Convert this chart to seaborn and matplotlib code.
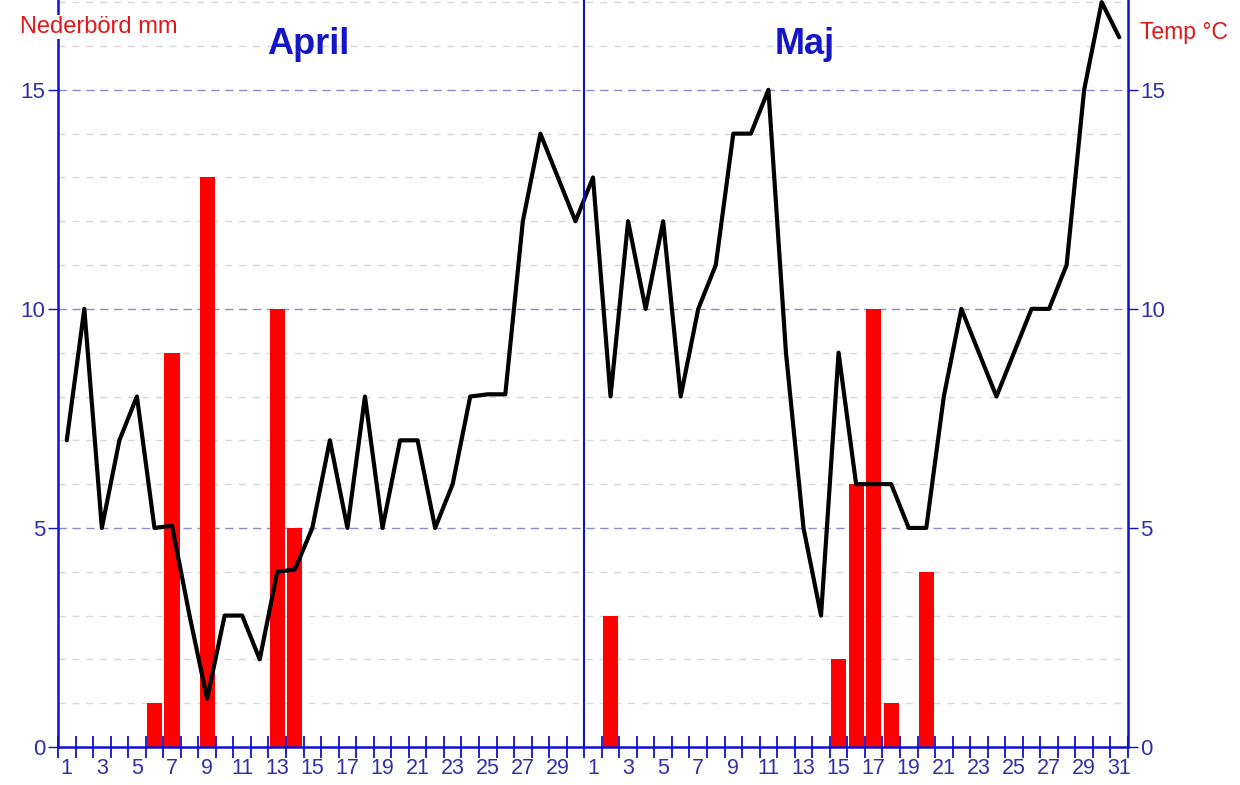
import numpy as np
import pandas as pd
import seaborn as sns
import matplotlib.pyplot as plt

sns.set_style("white")
plt.rcParams['font.family'] = ['Liberation Sans', 'DejaVu Sans']

# nederbörd (mm) per dag
apr_rain = [0, 0, 0, 0, 0, 1, 9, 0, 13, 0, 0, 0, 10, 5, 0,
            0, 0, 0, 0, 0, 0, 0, 0, 0, 0, 0, 0, 0, 0, 0]
maj_rain = [0, 3, 0, 0, 0, 0, 0, 0, 0, 0, 0, 0, 0, 0, 2, 6,
            10, 1, 0, 4, 0, 0, 0, 0, 0, 0, 0, 0, 0, 0, 0]
# temperatur (°C) per dag
apr_temp = [7, 10, 5, 7, 8, 5, 5.05, 3, 1.1, 3, 3, 2, 4, 4.05, 5,
            7, 5, 8, 5, 7, 7, 5, 6, 8, 8.05, 8.05, 12, 14, 13, 12]
maj_temp = [13, 8, 12, 10, 12, 8, 10, 11, 14, 14, 15, 9, 5, 3, 9, 6,
            6, 6, 5, 5, 8, 10, 9, 8, 9, 10, 10, 11, 15, 17, 16.2]

apr_days = list(range(1, 31))
maj_days = list(range(1, 32))

df = pd.DataFrame({
    "pos": np.arange(len(apr_days) + len(maj_days)),
    "dag": apr_days + maj_days,
    "rain": apr_rain + maj_rain,
    "temp": apr_temp + maj_temp,
})

blue = "#1010D0"
lblue = "#3030A8"

fig = plt.figure(figsize=(12.4, 7.85), dpi=100)
ax = fig.add_axes([58 / 1240, 38 / 785, 1070 / 1240, 747 / 785])

# rutnät
for y in range(1, 18):
    if y % 5 == 0:
        ax.axhline(y, color="#8C8CC8", lw=1, ls=(0, (6, 4)), zorder=0)
    else:
        ax.axhline(y, color="#D8D8D8", lw=1, ls=(0, (5, 5)), zorder=0)

sns.barplot(data=df, x="pos", y="rain", native_scale=True, color="#FF0000",
            saturation=1, width=0.86, linewidth=0, ax=ax, zorder=2)
sns.lineplot(data=df, x="pos", y="temp", color="black", lw=3, ax=ax, zorder=3)

ax.axvline(29.5, color=blue, lw=1.5, zorder=4)

ax.set_xlim(-0.5, 60.5)
ax.set_ylim(0, 17.05)
ax.set_xlabel("")
ax.set_ylabel("")

# x-axel: etiketter på udda dagar, streck mellan dagarna
lab_pos = df["pos"][df["dag"] % 2 == 1]
lab_txt = df["dag"][df["dag"] % 2 == 1].astype(str)
ax.set_xticks(lab_pos)
ax.set_xticklabels(lab_txt)
ax.set_xticks(np.arange(-0.5, 61, 1), minor=True)
ax.tick_params(axis="x", which="major", length=0, pad=8, labelsize=15.5, labelcolor=lblue)
ax.tick_params(axis="x", which="minor", direction="inout", length=16, width=1.3,
               color=blue, bottom=True)

ax.set_yticks([0, 5, 10, 15])
ax.tick_params(axis="y", which="major", left=True, right=True, labelleft=True,
               labelright=True, direction="out", length=7, width=1, color=blue,
               labelsize=16, labelcolor=lblue, pad=2)

for side in ["left", "right", "bottom"]:
    ax.spines[side].set_color(blue)
    ax.spines[side].set_linewidth(1.8)
ax.spines["top"].set_visible(False)

fig.text(20 / 1240, 1 - 27 / 785, "Nederbörd mm", color="#E01818", fontsize=17,
         va="center", ha="left",
         bbox=dict(facecolor="white", edgecolor="none", pad=1))
fig.text(1140 / 1240, 1 - 32 / 785, "Temp °C", color="#E01818", fontsize=16.5,
         va="center", ha="left")
fig.text(308 / 1240, 1 - 45 / 785, "April", color="#1515C8", fontsize=26,
         fontweight="bold", va="center", ha="center")
fig.text(805 / 1240, 1 - 45 / 785, "Maj", color="#1515C8", fontsize=26,
         fontweight="bold", va="center", ha="center")

fig.savefig("out.png", dpi=100)
